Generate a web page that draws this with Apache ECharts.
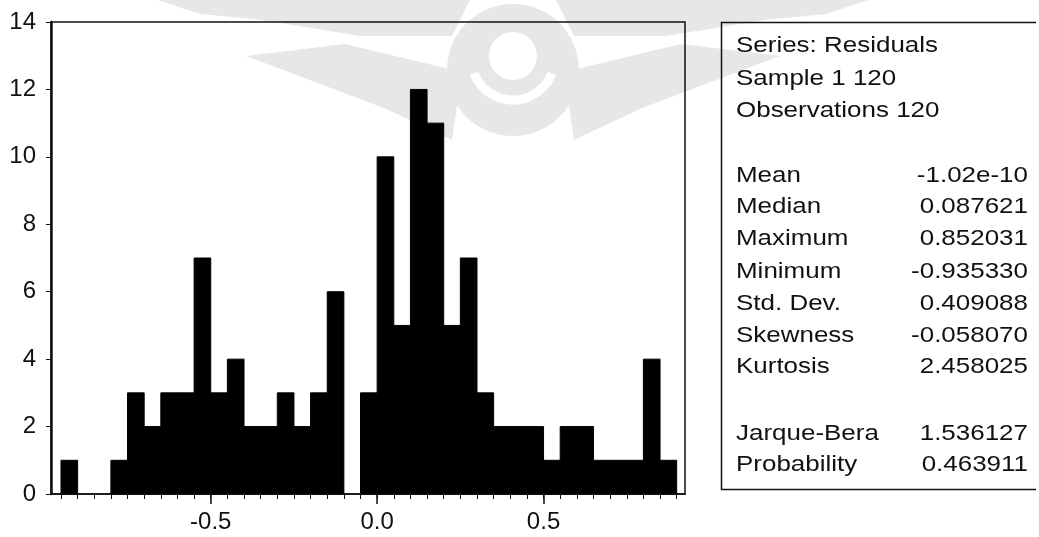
<!DOCTYPE html>
<html>
<head>
<meta charset="utf-8">
<title>Histogram of residuals</title>
<script src="https://cdn.jsdelivr.net/npm/echarts@6/dist/echarts.min.js"></script>
<style>
    html, body { margin: 0; padding: 0; background: #fff; }
    #chart { width: 1039px; height: 537px; }
</style>
</head>
<body>
<div id="chart"></div>
<script>
// bin edges of the histogram (width 0.05)
var binEdges = [-0.95, -0.90, -0.85, -0.80, -0.75, -0.70, -0.65, -0.60, -0.55, -0.50,
    -0.45, -0.40, -0.35, -0.30, -0.25, -0.20, -0.15, -0.10, -0.05, 0.00,
    0.05, 0.10, 0.15, 0.20, 0.25, 0.30, 0.35, 0.40, 0.45, 0.50,
    0.55, 0.60, 0.65, 0.70, 0.75, 0.80, 0.85, 0.90];

// frequency in each bin
var counts = [1, 0, 0, 1, 3, 2, 3, 3, 7, 3,
    4, 2, 2, 3, 2, 3, 6, 0, 3, 10,
    5, 12, 11, 5, 7, 3, 2, 2, 2, 1,
    2, 2, 1, 1, 1, 4, 1];

var xLabels = [-0.5, 0.0, 0.5];

var headerLines = ['Series: Residuals', 'Sample 1 120', 'Observations 120'];
var statNames = ['Mean', 'Median', 'Maximum', 'Minimum', 'Std. Dev.', 'Skewness', 'Kurtosis'];
var statValues = ['-1.02e-10', '0.087621', '0.852031', '-0.935330', '0.409088', '-0.058070', '2.458025'];
var testNames = ['Jarque-Bera', 'Probability'];
var testValues = ['1.536127', '0.463911'];

var FONT = '"Liberation Sans", Arial, sans-serif';

var chart = echarts.init(document.getElementById('chart'), null, { renderer: 'canvas' });

var barData = [];
for (var i = 0; i < counts.length; i++) {
    if (counts[i] > 0) {
        barData.push([binEdges[i], binEdges[i + 1], counts[i]]);
    }
}

var graphics = [];

// faint watermark logo behind the chart
var WM = '#e7e7e7';
var wing = [
    [[158, 0], [470, 0], [452, 36], [360, 36], [262, 20], [200, 14]],
    [[246, 56], [345, 44], [462, 72], [452, 140], [384, 108]]
];
wing.forEach(function (pts) {
    graphics.push({ type: 'polygon', z: -10, shape: { points: pts }, style: { fill: WM } });
    graphics.push({
        type: 'polygon', z: -10,
        shape: { points: pts.map(function (p) { return [1026 - p[0], p[1]]; }) },
        style: { fill: WM }
    });
});
graphics.push({ type: 'circle', z: -10, shape: { cx: 513, cy: 70, r: 66 }, style: { fill: WM } });
graphics.push({ type: 'circle', z: -9, shape: { cx: 513, cy: 56, r: 24 }, style: { fill: '#fff' } });
graphics.push({
    type: 'arc', z: -9,
    shape: { cx: 513, cy: 58, r: 42, startAngle: Math.PI * 0.12, endAngle: Math.PI * 0.88 },
    style: { stroke: '#fff', lineWidth: 9, fill: null }
});

// statistics panel
var addText = function (txt, x, y, align) {
    graphics.push({
        type: 'text',
        x: x,
        y: y,
        scaleX: 1.18,
        style: {
            text: txt,
            font: '22px ' + FONT,
            fill: '#111',
            align: align,
            verticalAlign: 'middle'
        }
    });
};
var headerY = [46, 79, 111];
var statY = [176, 207, 239, 272, 304, 336, 367];
var testY = [434, 465];
headerLines.forEach(function (t, k) { addText(t, 736, headerY[k], 'left'); });
statNames.forEach(function (t, k) {
    addText(t, 736, statY[k], 'left');
    addText(statValues[k], 1028, statY[k], 'right');
});
testNames.forEach(function (t, k) {
    addText(t, 736, testY[k], 'left');
    addText(testValues[k], 1028, testY[k], 'right');
});
graphics.push({
    type: 'polyline',
    shape: { points: [[1036, 22.5], [721.5, 22.5], [721.5, 489.5], [1036, 489.5]] },
    style: { stroke: '#111', lineWidth: 1.5, fill: null }
});

var option = {
    animation: false,
    backgroundColor: '#fff',
    grid: {
        left: 51,
        right: 354,
        top: 22,
        bottom: 43,
        show: true,
        borderColor: '#111',
        borderWidth: 1.5,
        backgroundColor: 'transparent'
    },
    xAxis: [{
        type: 'value',
        min: -0.98,
        max: 0.925,
        splitLine: { show: false },
        axisLine: { show: true, onZero: false, lineStyle: { color: '#111', width: 1.5 } },
        axisTick: { show: true, length: 5, customValues: binEdges, lineStyle: { color: '#111', width: 1 } },
        axisLabel: { show: false }
    }, {
        type: 'value',
        position: 'bottom',
        min: -0.98,
        max: 0.925,
        splitLine: { show: false },
        axisLine: { show: false, onZero: false },
        axisTick: { show: true, length: 10, customValues: xLabels, lineStyle: { color: '#111', width: 1.5 } },
        axisLabel: {
            show: true,
            customValues: xLabels,
            margin: 16,
            color: '#111',
            fontSize: 24,
            fontFamily: FONT,
            formatter: function (v) { return v.toFixed(1); }
        }
    }],
    yAxis: {
        type: 'value',
        min: 0,
        max: 14,
        interval: 2,
        splitLine: { show: false },
        axisLine: { show: true, onZero: false, lineStyle: { color: '#111', width: 2.5 } },
        axisTick: { show: true, length: 5, lineStyle: { color: '#111', width: 1 } },
        axisLabel: {
            margin: 15,
            color: '#111',
            fontSize: 24,
            fontFamily: FONT
        }
    },
    series: [{
        type: 'custom',
        xAxisIndex: 0,
        yAxisIndex: 0,
        encode: { x: [0, 1], y: 2 },
        data: barData,
        renderItem: function (params, api) {
            var p0 = api.coord([api.value(0), 0]);
            var p1 = api.coord([api.value(1), api.value(2)]);
            return {
                type: 'rect',
                shape: { x: p0[0], y: p1[1], width: p1[0] - p0[0], height: p0[1] - p1[1] },
                style: { fill: '#000', stroke: '#000', lineWidth: 1 }
            };
        }
    }],
    graphic: graphics
};

chart.setOption(option);
</script>
</body>
</html>
